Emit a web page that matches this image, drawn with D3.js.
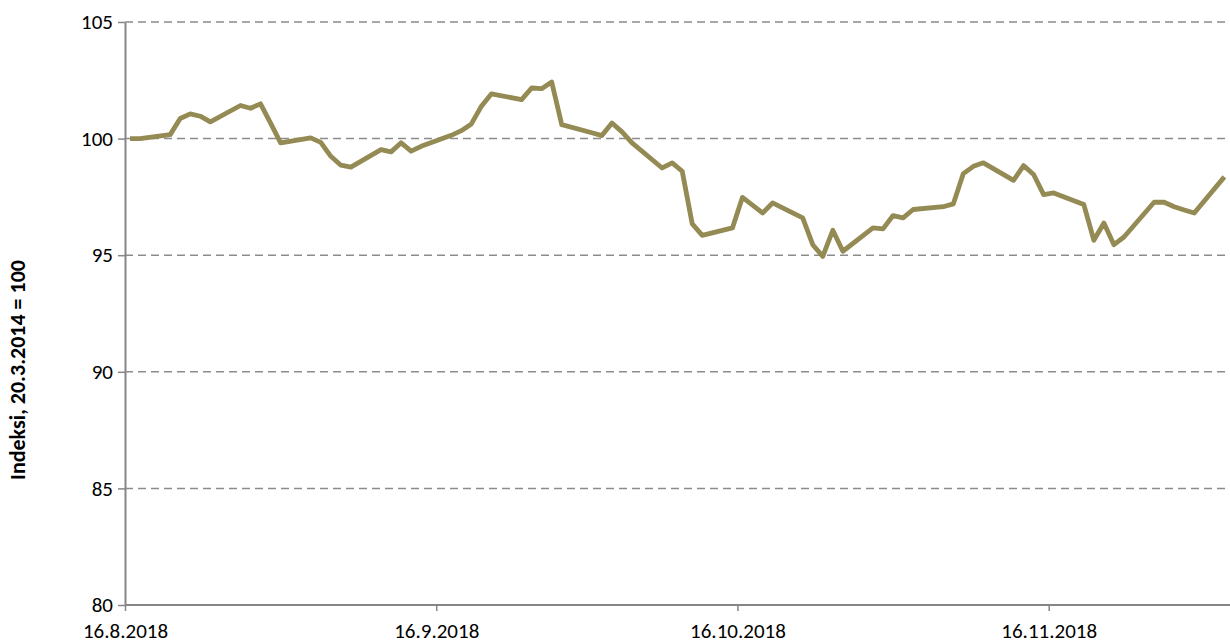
<!DOCTYPE html>
<html>
<head>
<meta charset="utf-8">
<script src="https://cdn.jsdelivr.net/npm/d3@7"></script>
<style>
    body { margin: 0; background: #fff; }
    text { font-family: Carlito, Calibri, 'Open Sans', sans-serif; fill: #000; }
</style>
</head>
<body>
<svg></svg>
<script>
const width = 1230;
const height = 644;
const margin = { top: 22, right: 0.6, bottom: 39, left: 125 };

const dates = [
    '16.8.2018', '17.8.2018', '20.8.2018', '21.8.2018', '22.8.2018', '23.8.2018', '24.8.2018',
    '27.8.2018', '28.8.2018', '29.8.2018', '30.8.2018', '31.8.2018',
    '3.9.2018', '4.9.2018', '5.9.2018', '6.9.2018', '7.9.2018',
    '10.9.2018', '11.9.2018', '12.9.2018', '13.9.2018', '14.9.2018',
    '17.9.2018', '18.9.2018', '19.9.2018', '20.9.2018', '21.9.2018',
    '24.9.2018', '25.9.2018', '26.9.2018', '27.9.2018', '28.9.2018',
    '1.10.2018', '2.10.2018', '3.10.2018', '4.10.2018', '5.10.2018',
    '8.10.2018', '9.10.2018', '10.10.2018', '11.10.2018', '12.10.2018',
    '15.10.2018', '16.10.2018', '17.10.2018', '18.10.2018', '19.10.2018',
    '22.10.2018', '23.10.2018', '24.10.2018', '25.10.2018', '26.10.2018',
    '29.10.2018', '30.10.2018', '31.10.2018', '1.11.2018', '2.11.2018',
    '5.11.2018', '6.11.2018', '7.11.2018', '8.11.2018', '9.11.2018',
    '12.11.2018', '13.11.2018', '14.11.2018', '15.11.2018', '16.11.2018',
    '19.11.2018', '20.11.2018', '21.11.2018', '22.11.2018', '23.11.2018',
    '26.11.2018', '27.11.2018', '28.11.2018', '29.11.2018', '30.11.2018',
    '3.12.2018'
];

const values = [
    100.0, 100.0, 100.17, 100.86, 101.06, 100.96, 100.72,
    101.42, 101.30, 101.49, 100.66, 99.82,
    100.03, 99.84, 99.24, 98.86, 98.78,
    99.53, 99.43, 99.82, 99.46, 99.67,
    100.14, 100.34, 100.63, 101.39, 101.92,
    101.67, 102.17, 102.14, 102.43, 100.60,
    100.25, 100.13, 100.67, 100.29, 99.82,
    98.74, 98.96, 98.60, 96.34, 95.85,
    96.17, 97.48, 97.15, 96.81, 97.24,
    96.60, 95.45, 94.95, 96.07, 95.17,
    96.17, 96.13, 96.70, 96.60, 96.96,
    97.08, 97.20, 98.50, 98.81, 98.96,
    98.21, 98.84, 98.46, 97.60, 97.67,
    97.17, 95.64, 96.38, 95.45, 95.78,
    97.27, 97.27, 97.08, 96.94, 96.81,
    98.36
];

const xTickLabels = ['16.8.2018', '16.9.2018', '16.10.2018', '16.11.2018'];
const yTicks = [80, 85, 90, 95, 100, 105];
const yTitle = 'Indeksi, 20.3.2014 = 100';

const parse = d3.timeParse('%d.%m.%Y');
const fmt = d3.timeFormat('%-d.%-m.%Y');

// Excel puts each day's point in the middle of its day slot
const data = dates.map((d, i) => ({
    date: d3.timeHour.offset(parse(d), 12),
    value: values[i]
}));

const xScale = d3.scaleTime()
    .domain([parse('16.8.2018'), parse('4.12.2018')])
    .range([margin.left, width - margin.right]);

const yScale = d3.scaleLinear()
    .domain([80, 105])
    .range([height - margin.bottom, margin.top]);

const svg = d3.select('svg')
    .attr('width', width)
    .attr('height', height);

// dashed gridlines
svg.append('g')
    .selectAll('line')
    .data(yTicks.filter((t) => t > 80))
    .enter()
    .append('line')
        .attr('x1', margin.left)
        .attr('x2', width)
        .attr('y1', (d) => yScale(d))
        .attr('y2', (d) => yScale(d))
        .attr('stroke', '#8c8c8c')
        .attr('stroke-width', 1.5)
        .attr('stroke-dasharray', '8,5');

const xAxis = d3.axisBottom(xScale)
    .tickValues(xTickLabels.map(parse))
    .tickFormat(fmt)
    .tickSize(6)
    .tickSizeOuter(0)
    .tickPadding(12);

const yAxis = d3.axisLeft(yScale)
    .tickValues(yTicks)
    .tickSize(7)
    .tickSizeOuter(0)
    .tickPadding(5);

const gx = svg.append('g')
    .attr('transform', `translate(0, ${height - margin.bottom})`)
    .call(xAxis);

const gy = svg.append('g')
    .attr('transform', `translate(${margin.left}, 0)`)
    .call(yAxis);

[gx, gy].forEach((g) => {
    g.selectAll('.domain').attr('stroke', '#868686').attr('stroke-width', 2);
    g.selectAll('.tick line').attr('stroke', '#868686').attr('stroke-width', 1.5);
    g.selectAll('.tick text')
        .style('font-size', '21px')
        .style('font-family', "Carlito, Calibri, 'Open Sans', sans-serif")
        .attr('fill', '#000');
});

gx.select('.domain').attr('d', `M${margin.left},0H${width}`);

const line = d3.line()
    .x((d) => xScale(d.date))
    .y((d) => yScale(d.value));

svg.append('path')
    .datum(data)
    .attr('d', line)
    .attr('fill', 'none')
    .attr('stroke', '#948A54')
    .attr('stroke-width', 4.8)
    .attr('stroke-linejoin', 'round');

svg.append('text')
    .attr('transform', 'rotate(-90)')
    .attr('x', -370)
    .attr('y', 25)
    .style('text-anchor', 'middle')
    .style('font-size', '22px')
    .style('font-weight', 'bold')
    .text(yTitle);
</script>
</body>
</html>
